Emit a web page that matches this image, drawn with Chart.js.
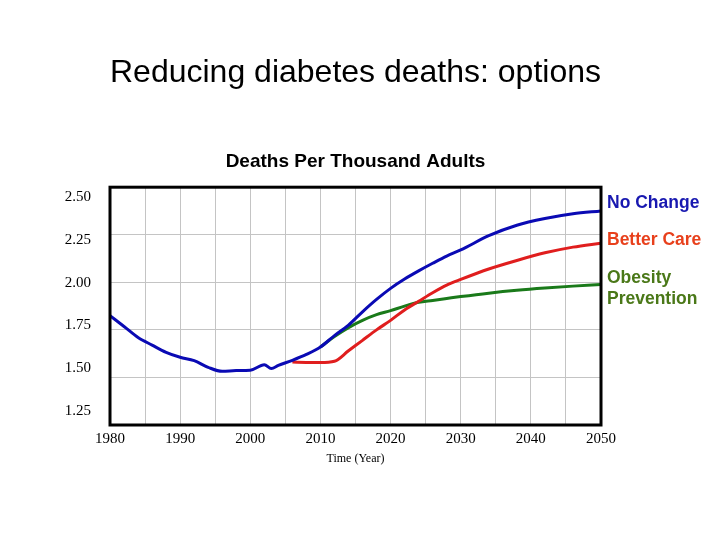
<!DOCTYPE html>
<html>
<head>
<meta charset="utf-8">
<script src="https://cdn.jsdelivr.net/npm/chart.js@4.4.1/dist/chart.umd.min.js"></script>
<style>
  html, body { margin: 0; padding: 0; background: #fff; }
</style>
</head>
<body>
<canvas id="c" width="720" height="540"></canvas>
<script>
// Deaths per thousand adults, 1980-2050, three scenarios
const years = [1980, 1982, 1984, 1986, 1988, 1990, 1992, 1994, 1996, 1998,
  2000, 2002, 2003, 2004, 2006, 2008, 2010, 2012, 2014, 2016, 2018, 2020,
  2022, 2024, 2026, 2028, 2030, 2034, 2038, 2042, 2046, 2050];

const noChange = [1.825, 1.768, 1.71, 1.67, 1.632, 1.606, 1.588, 1.553, 1.532, 1.536,
  1.538, 1.567, 1.547, 1.563, 1.59, 1.621, 1.66, 1.72, 1.775, 1.845, 1.91, 1.968,
  2.017, 2.06, 2.10, 2.138, 2.17, 2.245, 2.30, 2.335, 2.36, 2.375];

const betterCare = [null, null, null, null, null, null, null, null, null, null,
  null, null, null, null, 1.581, 1.579, 1.578, 1.585, 1.64, 1.695, 1.75, 1.80,
  1.855, 1.90, 1.945, 1.985, 2.015, 2.07, 2.115, 2.155, 2.185, 2.206];

const obesityPrevention = [null, null, null, null, null, null, null, null, null, null,
  null, null, null, null, null, null, 1.66, 1.715, 1.762, 1.80, 1.83, 1.851,
  1.875, 1.895, 1.905, 1.915, 1.925, 1.943, 1.958, 1.97, 1.98, 1.988];

const xGridYears = [1980, 1985, 1990, 1995, 2000, 2005, 2010, 2015, 2020, 2025,
  2030, 2035, 2040, 2045, 2050];
const yTicks = [1.25, 1.5, 1.75, 2.0, 2.25, 2.5];

const seriesNames = ["No Change", "Better Care", "Obesity\nPrevention"];

const BLUE = "#0a0ab4";
const RED = "#e01e1e";
const GREEN = "#1a7a1a";
const GRID = "#c4c4c4";
const TICK_FONT = { family: "Liberation Serif", size: 15 };

const toPoints = (vals) => years.map((y, i) => ({ x: y, y: vals[i] }));

// kader hitam tebal di sekeliling area plot
const framePlugin = {
  id: "frame",
  afterDatasetsDraw(chart) {
    const { ctx, chartArea: a } = chart;
    ctx.save();
    ctx.strokeStyle = "#000";
    ctx.lineWidth = 3;
    ctx.strokeRect(a.left, a.top, a.right - a.left, a.bottom - a.top);
    ctx.restore();
  },
};

// nama seri ditulis di samping ujung kanan garisnya
const endLabels = {
  id: "endLabels",
  afterDraw(chart, args, opts) {
    const { ctx, chartArea: a } = chart;
    ctx.save();
    ctx.font = "bold 17.5px 'Liberation Sans', Arial, sans-serif";
    ctx.textAlign = "left";
    ctx.textBaseline = "middle";
    chart.data.datasets.forEach((ds, i) => {
      const meta = chart.getDatasetMeta(i);
      const last = meta.data[meta.data.length - 1];
      const lines = seriesNames[i].split("\n");
      ctx.fillStyle = opts.colors[i];
      lines.forEach((ln, k) => {
        ctx.fillText(ln, a.right + 6, last.y + opts.dy[i] + k * 21);
      });
    });
    ctx.restore();
  },
};

new Chart(document.getElementById("c"), {
  type: "line",
  data: {
    datasets: [
      { label: seriesNames[0], data: toPoints(noChange), borderColor: BLUE },
      { label: seriesNames[1], data: toPoints(betterCare), borderColor: RED },
      { label: seriesNames[2], data: toPoints(obesityPrevention), borderColor: GREEN },
    ].map((d) => ({
      ...d,
      borderWidth: 3,
      pointRadius: 0,
      fill: false,
      cubicInterpolationMode: "monotone",
    })),
  },
  options: {
    responsive: false,
    animation: false,
    layout: { padding: { top: 54, right: 119, bottom: 75, left: 0 } },
    plugins: {
      legend: { display: false },
      tooltip: { enabled: false },
      title: {
        display: true,
        fullSize: false,
        text: "Reducing diabetes deaths: options",
        color: "#000",
        font: { family: "Liberation Sans", size: 32, weight: "normal" },
        padding: { top: 0, bottom: 58 },
      },
      subtitle: {
        display: true,
        fullSize: false,
        text: "Deaths Per Thousand Adults",
        color: "#000",
        font: { family: "Liberation Sans", size: 19, weight: "bold" },
        padding: { top: 0, bottom: 14 },
      },
      endLabels: {
        colors: ["#1818b0", "#e8401c", "#4a7818"],
        dy: [-8, -3, -6],
      },
    },
    scales: {
      x: {
        type: "linear",
        min: 1980,
        max: 2050,
        afterBuildTicks: (s) => { s.ticks = xGridYears.map((v) => ({ value: v })); },
        ticks: {
          callback: (v) => (v % 10 === 0 ? String(v) : ""),
          autoSkip: false,
          maxRotation: 0,
          color: "#000",
          font: TICK_FONT,
          padding: 5,
        },
        grid: { color: GRID, drawTicks: false },
        border: { display: false },
        title: {
          display: true,
          text: "Time (Year)",
          color: "#000",
          font: { family: "Liberation Serif", size: 12, lineHeight: 1 },
          padding: 0,
        },
      },
      y: {
        type: "linear",
        position: "left",
        min: 1.25,
        max: 2.5,
        afterBuildTicks: (s) => { s.ticks = yTicks.map((v) => ({ value: v })); },
        ticks: { display: false },
        grid: { color: GRID, drawTicks: false },
        border: { display: false },
        afterFit: (s) => { s.width = 0; },
      },
      // label sumbu Y di gambar asli sedikit dirapatkan, jadi pakai skala terpisah
      yLabels: {
        type: "linear",
        position: "left",
        min: 1.1686,
        max: 2.5581,
        afterBuildTicks: (s) => { s.ticks = yTicks.map((v) => ({ value: v })); },
        ticks: {
          callback: (v) => v.toFixed(2),
          color: "#000",
          font: TICK_FONT,
          padding: 11,
        },
        grid: { display: false },
        border: { display: false },
        afterFit: (s) => { s.width = 110; },
      },
    },
  },
  plugins: [framePlugin, endLabels],
});
</script>
</body>
</html>
